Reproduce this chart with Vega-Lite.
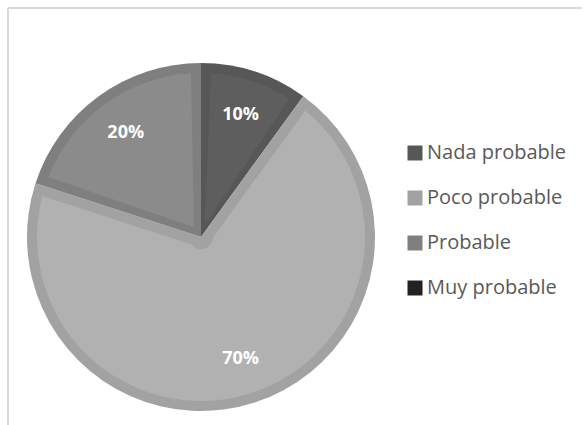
{
  "$schema": "https://vega.github.io/schema/vega-lite/v6.json",
  "autosize": {"type": "none"},
  "width": 578,
  "height": 417,
  "padding": {"left": 8, "top": 8, "right": 0, "bottom": 0},
  "background": "white",
  "config": {"view": {"stroke": null}},
  "data": {"values": [
    {"categoria": "Nada probable", "valor": 10, "orden": 1, "etiqueta": "10%"},
    {"categoria": "Poco probable", "valor": 70, "orden": 2, "etiqueta": "70%"},
    {"categoria": "Probable", "valor": 20, "orden": 3, "etiqueta": "20%"},
    {"categoria": "Muy probable", "valor": 0, "orden": 4, "etiqueta": "0%"}
  ]},
  "layer": [
    {
      "data": {"values": [{"marco": 1}]},
      "mark": {"type": "rect", "fill": null, "stroke": "#d9d9d9", "strokeWidth": 2, "strokeDash": [574, 999, 417, 0]},
      "encoding": {}
    },
    {
      "mark": {"type": "arc", "x": 193, "y": 229, "outerRadius": 174, "innerRadius": 0},
      "encoding": {
        "theta": {"field": "valor", "type": "quantitative", "stack": true},
        "order": {"field": "orden"},
        "color": {
          "field": "categoria", "type": "nominal",
          "scale": {"domain": ["Nada probable", "Poco probable", "Probable", "Muy probable"],
                    "range": ["#575757", "#a2a2a2", "#7f7f7f", "#222222"]},
          "legend": {
            "orient": "none", "legendX": 397, "legendY": 135, "title": null,
            "symbolType": "square", "symbolSize": 225, "symbolStrokeWidth": 0,
            "labelFont": "Open Sans", "labelFontSize": 20, "labelColor": "#595959",
            "labelOffset": 2, "rowPadding": 25, "padding": 0
          }
        }
      }
    },
    {
      "mark": {"type": "arc", "x": 193, "y": 229, "outerRadius": 164, "innerRadius": 12, "padAngle": 0.122},
      "encoding": {
        "theta": {"field": "valor", "type": "quantitative", "stack": true},
        "order": {"field": "orden"},
        "fill": {
          "field": "categoria", "type": "nominal",
          "scale": {"domain": ["Nada probable", "Poco probable", "Probable", "Muy probable"],
                    "range": ["#5e5e5e", "#b1b1b1", "#8b8b8b", "#2a2a2a"]},
          "legend": null
        }
      }
    },
    {
      "transform": [{"filter": "datum.valor > 0"}],
      "mark": {"type": "text", "x": 193, "y": 229, "radius": 128, "font": "Open Sans", "fontSize": 18, "fontWeight": "bold", "fill": "white", "align": "center", "baseline": "middle"},
      "encoding": {
        "theta": {"field": "valor", "type": "quantitative", "stack": true},
        "order": {"field": "orden"},
        "text": {"field": "etiqueta", "type": "nominal"}
      }
    }
  ]
}
